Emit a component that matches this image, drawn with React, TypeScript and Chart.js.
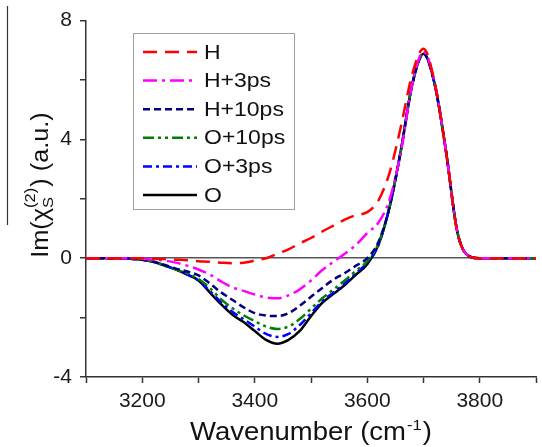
import React, { useEffect, useRef } from 'react';
import { Chart, registerables } from 'chart.js';

Chart.register(...registerables);

// ---- data ----
const wavenumbers = [
  3100, 3120, 3140, 3160, 3180, 3200, 3220, 3240, 3260, 3280,
  3300, 3320, 3340, 3360, 3380, 3400, 3420, 3440, 3460, 3480,
  3500, 3520, 3540, 3560, 3580, 3600, 3620, 3640, 3660, 3680,
  3700, 3720, 3740, 3760, 3780, 3800, 3820, 3840, 3860, 3880, 3900,
];

const seriesLabels = ['H', 'H+3ps', 'H+10ps', 'O+10ps', 'O+3ps', 'O'];

const seriesH = [
  0, 0, 0, 0, 0, 0, -0.02, -0.03, -0.05, -0.07,
  -0.1, -0.12, -0.15, -0.17, -0.15, -0.08, 0.0, 0.15, 0.3, 0.5,
  0.68, 0.9, 1.1, 1.3, 1.45, 1.55, 1.95, 2.9, 4.45, 6.2,
  7.05, 5.9, 3.6, 0.9, 0.08, 0, 0, 0, 0, 0, 0,
];
const seriesH3 = [
  0, 0, 0, 0, 0, -0.02, -0.05, -0.08, -0.15, -0.25,
  -0.38, -0.55, -0.78, -0.98, -1.1, -1.22, -1.32, -1.35, -1.25, -1.05,
  -0.75, -0.4, -0.12, 0.15, 0.45, 0.85, 1.2, 2.0, 3.6, 5.85,
  6.95, 5.9, 3.6, 0.9, 0.08, 0, 0, 0, 0, 0, 0,
];
const seriesH10 = [
  0, 0, 0, 0, -0.02, -0.05, -0.12, -0.23, -0.35, -0.45,
  -0.58, -0.85, -1.15, -1.4, -1.65, -1.85, -1.93, -1.95, -1.85, -1.6,
  -1.3, -1.0, -0.72, -0.5, -0.25, 0.0, 0.55, 1.75, 3.65, 5.85,
  6.88, 5.85, 3.6, 0.9, 0.08, 0, 0, 0, 0, 0, 0,
];
const seriesO10 = [
  0, 0, 0, 0, -0.02, -0.05, -0.12, -0.25, -0.38, -0.52,
  -0.7, -1.0, -1.38, -1.68, -1.92, -2.12, -2.3, -2.38, -2.3, -2.05,
  -1.7, -1.35, -1.05, -0.75, -0.42, -0.1, 0.5, 1.75, 3.65, 5.85,
  6.88, 5.85, 3.6, 0.9, 0.08, 0, 0, 0, 0, 0, 0,
];
const seriesO3 = [
  0, 0, 0, 0, -0.02, -0.05, -0.12, -0.25, -0.38, -0.55,
  -0.75, -1.1, -1.48, -1.8, -2.05, -2.3, -2.55, -2.65, -2.55, -2.25,
  -1.85, -1.45, -1.15, -0.85, -0.5, -0.15, 0.45, 1.75, 3.65, 5.85,
  6.88, 5.85, 3.6, 0.9, 0.08, 0, 0, 0, 0, 0, 0,
];
const seriesO = [
  0, 0, 0, 0, -0.02, -0.05, -0.12, -0.25, -0.38, -0.55,
  -0.75, -1.15, -1.55, -1.9, -2.15, -2.45, -2.75, -2.88, -2.75, -2.45,
  -1.95, -1.5, -1.2, -0.9, -0.55, -0.2, 0.45, 1.75, 3.65, 5.85,
  6.88, 5.85, 3.6, 0.9, 0.08, 0, 0, 0, 0, 0, 0,
];

const xTickLabels = [3200, 3400, 3600, 3800];
const yTickLabels = [-4, 0, 4, 8];

// ---- styles ----
const seriesColors = ['#ff0000', '#ff00ff', '#000080', '#008000', '#0000ff', '#000000'];
const seriesDashes: number[][] = [
  [14, 8],
  [14, 5, 3, 5],
  [7, 4],
  [11, 4, 3, 4, 3, 4],
  [9, 4, 3, 4],
  [],
];
const allSeries = [seriesH, seriesH3, seriesH10, seriesO10, seriesO3, seriesO];

const FONT = "'Liberation Sans', Arial, sans-serif";

const overlayPlugin = {
  id: 'overlay',
  afterDraw(chart: any) {
    const ctx: CanvasRenderingContext2D = chart.ctx;
    const { left, right } = chart.chartArea;
    ctx.save();

    // stray vertical rule at the far left of the figure
    ctx.strokeStyle = '#333';
    ctx.lineWidth = 1.2;
    ctx.beginPath();
    ctx.moveTo(7.5, 6);
    ctx.lineTo(7.5, 225);
    ctx.stroke();

    // legend
    const bx = 133.5, by = 33.5, bw = 161, bh = 176;
    ctx.fillStyle = '#ffffff';
    ctx.fillRect(bx, by, bw, bh);
    ctx.strokeStyle = '#a0a0a0';
    ctx.lineWidth = 1;
    ctx.strokeRect(bx, by, bw, bh);
    chart.data.datasets.forEach((ds: any, i: number) => {
      const y = 52 + i * 28.6;
      ctx.save();
      ctx.strokeStyle = ds.borderColor;
      ctx.lineWidth = ds.borderWidth;
      ctx.setLineDash(ds.borderDash || []);
      ctx.beginPath();
      ctx.moveTo(143, y);
      ctx.lineTo(197, y);
      ctx.stroke();
      ctx.restore();
      ctx.save();
      ctx.fillStyle = '#111';
      ctx.font = `20px ${FONT}`;
      ctx.textBaseline = 'middle';
      ctx.translate(204, y + 1);
      ctx.scale(1.15, 1);
      ctx.fillText(ds.label, 0, 0);
      ctx.restore();
    });

    // x title: Wavenumber (cm^-1)
    {
      const main = 'Wavenumber (cm';
      const sup = '-1';
      const close = ')';
      ctx.save();
      ctx.fillStyle = '#111';
      ctx.textBaseline = 'alphabetic';
      const sx = 1.1;
      ctx.font = `25px ${FONT}`;
      const w1 = ctx.measureText(main).width;
      const w3 = ctx.measureText(close).width;
      ctx.font = `15px ${FONT}`;
      const w2 = ctx.measureText(sup).width;
      const total = (w1 + w2 + w3 + 2) * sx;
      const cx = (left + right) / 2;
      ctx.translate(cx - total / 2, 440);
      ctx.scale(sx, 1);
      ctx.font = `25px ${FONT}`;
      ctx.fillText(main, 0, 0);
      ctx.font = `15px ${FONT}`;
      ctx.fillText(sup, w1 + 1, -10);
      ctx.font = `25px ${FONT}`;
      ctx.fillText(close, w1 + w2 + 2, 0);
      ctx.restore();
    }

    // y title: Im(χS^(2)) (a.u.)
    {
      ctx.save();
      ctx.fillStyle = '#111';
      ctx.textBaseline = 'alphabetic';
      const sx = 1.1;
      ctx.font = `23px ${FONT}`;
      const a = 'Im(';
      const chi = 'χ';
      const c = ') (a.u.)';
      const wa = ctx.measureText(a).width;
      const wchi = ctx.measureText(chi).width;
      const wc = ctx.measureText(c).width;
      ctx.font = `15px ${FONT}`;
      const wsub = ctx.measureText('S').width;
      const wsup = ctx.measureText('(2)').width;
      const wmid = Math.max(wsub, wsup);
      const total = (wa + wchi + wmid + wc + 1) * sx;
      const cy = 185;
      ctx.translate(48, cy);
      ctx.rotate(-Math.PI / 2);
      ctx.translate(-total / 2, 0);
      ctx.scale(sx, 1);
      ctx.font = `23px ${FONT}`;
      ctx.fillText(a, 0, 0);
      ctx.fillText(chi, wa, 0);
      ctx.font = `15px ${FONT}`;
      ctx.fillText('S', wa + wchi, 5);
      ctx.fillText('(2)', wa + wchi, -13);
      ctx.font = `23px ${FONT}`;
      ctx.fillText(c, wa + wchi + wmid + 1, 0);
      ctx.restore();
    }

    ctx.restore();
  },
};

export default function App() {
  const canvasRef = useRef<HTMLCanvasElement | null>(null);

  useEffect(() => {
    const canvas = canvasRef.current;
    if (!canvas) return;
    const datasets = seriesLabels.map((label, i) => ({
      label,
      data: wavenumbers.map((x, j) => ({ x, y: allSeries[i][j] })),
      borderColor: seriesColors[i],
      backgroundColor: seriesColors[i],
      borderWidth: 2.5,
      borderDash: seriesDashes[i],
      pointRadius: 0,
      fill: false,
      cubicInterpolationMode: 'monotone' as const,
    }));

    const chart = new Chart(canvas, {
      type: 'line',
      data: { datasets },
      options: {
        responsive: false,
        animation: false,
        devicePixelRatio: 1,
        layout: { padding: { top: 20, right: 0, left: 0, bottom: 0 } },
        plugins: {
          legend: { display: false },
          tooltip: { enabled: false },
        },
        scales: {
          x: {
            type: 'linear',
            min: 3100,
            max: 3900,
            afterFit: (s: any) => { s.height = 70; },
            border: { display: true, color: '#333', width: 1.5 },
            grid: {
              drawOnChartArea: false,
              drawTicks: true,
              tickLength: 6,
              tickColor: '#333',
              tickWidth: 1.5,
            },
            ticks: {
              stepSize: 100,
              autoSkip: false,
              maxRotation: 0,
              padding: 6,
              color: '#1a1a1a',
              font: { family: FONT, size: 21 },
              callback: (v: any) => (xTickLabels.includes(Number(v)) ? String(v) : ''),
            },
          },
          y: {
            type: 'linear',
            min: -4,
            max: 8,
            afterFit: (s: any) => { s.width = 86; },
            border: { display: true, color: '#333', width: 1.5 },
            grid: {
              drawOnChartArea: true,
              drawTicks: true,
              tickLength: 6,
              tickColor: '#333',
              tickWidth: 1.5,
              lineWidth: 1.5,
              color: (c: any) => (c.tick && c.tick.value === 0 ? '#555555' : 'rgba(0,0,0,0)'),
            },
            ticks: {
              stepSize: 2,
              autoSkip: false,
              padding: 8,
              color: '#1a1a1a',
              font: { family: FONT, size: 21 },
              callback: (v: any) => (yTickLabels.includes(Number(v)) ? String(v) : ''),
            },
          },
        },
      },
      plugins: [overlayPlugin],
    });
    return () => chart.destroy();
  }, []);

  return (
    <div style={{ position: 'fixed', left: 0, top: 0, width: 542, height: 447, background: '#fff' }}>
      <canvas ref={canvasRef} width={542} height={447} style={{ display: 'block' }} />
    </div>
  );
}
